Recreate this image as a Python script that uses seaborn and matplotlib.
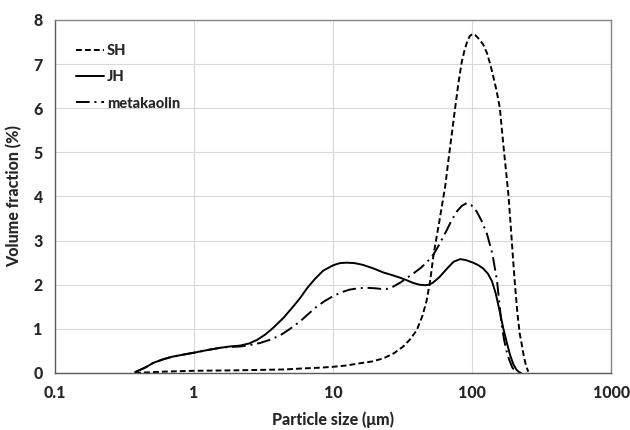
import numpy as np
import pandas as pd
import matplotlib
matplotlib.use("Agg")
import matplotlib.pyplot as plt
import seaborn as sns

# ---- data (particle size in um, volume fraction in %) ----
sh_size = [0.377, 0.6, 1.0, 2.0, 3.0, 4.5, 5.8, 8, 10, 12.5, 15.6, 19, 23, 27.5, 32, 36,
           40, 44, 47.2, 50, 52.7, 58, 64, 68.7, 75.5, 80, 84.3, 88, 92, 96, 100, 105,
           110, 120, 128, 135, 142, 150, 158.5, 164, 170, 176.5, 183, 190, 197, 204,
           212, 220, 227, 235, 245, 254]
sh_vol = [0.0, 0.03, 0.05, 0.06, 0.07, 0.08, 0.10, 0.12, 0.14, 0.17, 0.22, 0.26, 0.33, 0.45,
          0.60, 0.77, 0.97, 1.30, 1.65, 2.10, 2.66, 3.42, 4.22, 5.0, 6.0, 6.6, 7.05, 7.3,
          7.5, 7.63, 7.68, 7.66, 7.6, 7.45, 7.25, 7.0, 6.72, 6.4, 6.0, 5.5, 5.0, 4.5, 4.0,
          3.3, 2.6, 1.96, 1.35, 0.9, 0.67, 0.4, 0.15, 0.03]

jh_size = [0.377, 0.45, 0.51, 0.6, 0.7, 0.85, 1.0, 1.25, 1.54, 1.8, 2.14, 2.5, 2.84, 3.25,
           3.7, 4.4, 5.15, 5.8, 6.5, 7.4, 8.5, 10, 11.2, 12.5, 14.3, 16.4, 19.5, 22.9,
           26.5, 30.3, 34, 37.7, 42, 45.9, 49, 52.5, 58.5, 65.8, 73.5, 82, 90, 101.7,
           110, 120, 130, 139, 148, 158, 168, 178, 188, 198, 209, 218, 225]
jh_vol = [0.02, 0.13, 0.23, 0.31, 0.37, 0.42, 0.46, 0.52, 0.57, 0.60, 0.62, 0.67, 0.75, 0.87,
          1.02, 1.25, 1.50, 1.70, 1.92, 2.13, 2.32, 2.44, 2.49, 2.50, 2.49, 2.45, 2.37, 2.28,
          2.22, 2.16, 2.10, 2.04, 2.00, 1.99, 2.00, 2.05, 2.18, 2.36, 2.52, 2.58, 2.56, 2.50,
          2.45, 2.37, 2.25, 2.08, 1.80, 1.40, 1.00, 0.68, 0.40, 0.20, 0.07, 0.02, 0.0]

mk_size = [0.377, 0.45, 0.51, 0.6, 0.7, 0.85, 1.0, 1.25, 1.54, 1.8, 2.14, 2.5, 2.99, 3.5,
           4.16, 4.9, 5.8, 6.6, 7.6, 8.7, 10, 11.5, 13.2, 15.2, 17.5, 20, 23, 25, 27.2,
           30.5, 33.9, 38, 42.3, 47, 52.7, 58.5, 65.8, 71.5, 77.6, 84.5, 91.6, 99, 108,
           117, 128, 140, 151, 157, 163, 170, 177, 185, 195, 210]
mk_vol = [0.02, 0.13, 0.23, 0.31, 0.37, 0.42, 0.46, 0.52, 0.57, 0.59, 0.60, 0.63, 0.68, 0.75,
          0.85, 1.00, 1.17, 1.33, 1.50, 1.63, 1.74, 1.83, 1.89, 1.92, 1.93, 1.92, 1.90, 1.91,
          1.96, 2.05, 2.15, 2.26, 2.37, 2.50, 2.68, 2.93, 3.24, 3.47, 3.66, 3.79, 3.85, 3.80,
          3.66, 3.45, 3.15, 2.70, 2.10, 1.60, 1.10, 0.75, 0.50, 0.30, 0.12, 0.0]

x_ticks = [0.1, 1, 10, 100, 1000]
x_tick_labels = ["0.1", "1", "10", "100", "1000"]
y_ticks = [0, 1, 2, 3, 4, 5, 6, 7, 8]

# ---- style ----
sns.set_style("white")
plt.rcParams['font.family'] = ['Lato', 'DejaVu Sans']

fig = plt.figure(figsize=(6.3, 4.3), dpi=100)
ax = fig.add_axes([0.0873, 0.1326, 0.8827, 0.8209])

series = [
    ("SH", sh_size, sh_vol, (0, (3, 1.6))),
    ("JH", jh_size, jh_vol, "-"),
    ("metakaolin", mk_size, mk_vol, (0, (7, 2.5, 1, 2.5))),
]
for name, xs, ys, ls in series:
    sns.lineplot(x=xs, y=ys, ax=ax, color="black", linewidth=1.4,
                 linestyle=ls, label=name, sort=False, estimator=None)

ax.set_xscale("log")
ax.set_xlim(0.1, 1000)
ax.set_ylim(0, 8)
ax.set_xticks(x_ticks)
ax.set_xticklabels(x_tick_labels)
ax.set_yticks(y_ticks)
ax.minorticks_off()
ax.tick_params(length=0, labelsize=11.5, pad=9)
for lab in ax.get_xticklabels() + ax.get_yticklabels():
    lab.set_fontweight("black")

ax.grid(True, color="#d9d9d9", linewidth=0.8)
ax.set_axisbelow(True)

for side in ["left", "bottom"]:
    ax.spines[side].set_color("#595959")
    ax.spines[side].set_linewidth(1.0)
for side in ["top", "right"]:
    ax.spines[side].set_color("#868686")
    ax.spines[side].set_linewidth(1.0)

ax.set_xlabel("Particle size (μm)", fontsize=11.5, fontweight="black", labelpad=7)
ax.set_ylabel("Volume fraction (%)", fontsize=11.5, fontweight="black", labelpad=8)

leg = ax.legend(loc="upper left", bbox_to_anchor=(0.015, 0.97), frameon=False,
                handlelength=1.9, handletextpad=0.2, labelspacing=0.85,
                prop={"weight": "black", "size": 10.5})

fig.savefig("out.png", dpi=100)
